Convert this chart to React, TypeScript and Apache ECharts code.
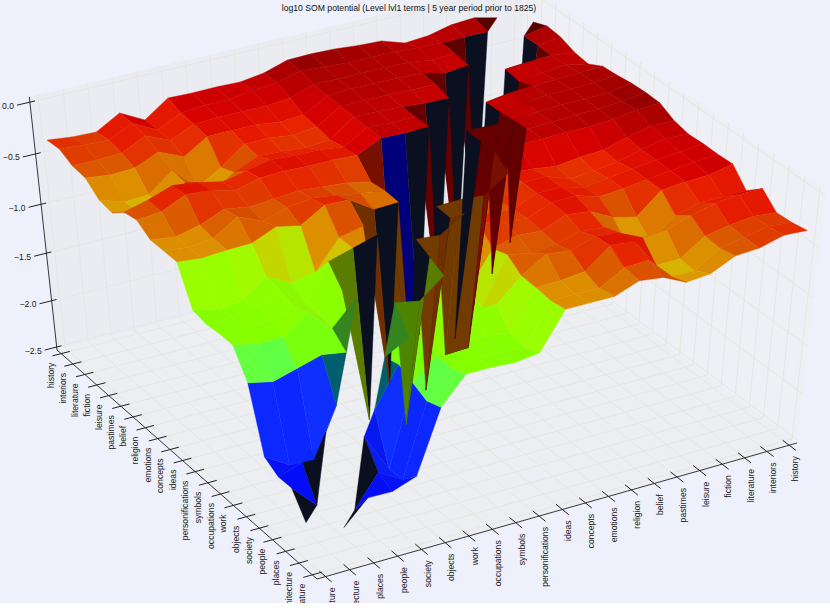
import React, { useEffect, useRef } from "react";
import * as echarts from "echarts";

const categories = ["history","interiors","literature","fiction","leisure","pastimes","belief","religion","emotions","concepts","ideas","personifications","symbols","occupations","work","objects","society","people","places","architecture","nature"];
const zTicks = [0, -0.5, -1, -1.5, -2, -2.5];
const title = "log10 SOM potential (Level lvl1 terms | 5 year period prior to 1825)";

// upper triangle of the symmetric matrix; row i holds columns j = i+1 ... 20
const row0 = [-.2,-.147,-.163,-.215,-.233,-.16,-.15,-.13,-.124,-.13,-.2,-.233,-.226,-.229,-.222,-.38,-.256,-.385,-.376,-.35];
const row1 = [-.19,-.186,-.19,-.186,-.17,-.17,-.17,-.155,-.14,-.2,-.22,-.25,-.25,-.27,-.38,-.256,-.363,-.355,-.336];
const row2 = [-2.15,-.2,-.21,-.18,-.175,-.175,-.175,-.175,-.25,-.27,-.27,-.27,-.28,-.38,-.28,-.39,-.4,-.4];
const row3 = [-.217,-.24,-.185,-.18,-.175,-.175,-.19,-.316,-.33,-.3,-.3,-.3,-.44,-.336,-.434,-.444,-.415];
const row4 = [-2.15,-.2,-.2,-.19,-.19,-.19,-.33,-.36,-.33,-.33,-.5,-.635,-.42,-.595,-.606,-.528];
const row5 = [-.235,-.228,-.21,-.2,-.195,-.36,-.38,-.36,-.35,-.445,-.61,-.435,-.6,-.6,-.55];
const row6 = [-2.15,-.21,-.21,-.2,-.33,-.3,-.3,-.28,-.33,-.38,-.33,-.3,-.38,-.44];
const row7 = [-.2,-.21,-.2,-.31,-.3,-.3,-.29,-.3,-.36,-.3,-.286,-.39,-.41];
const row8 = [-2.16,-2.14,-.47,-.42,-.4,-.38,-.4,-.42,-.38,-.475,-.53,-.5];
const row9 = [-2.15,-.45,-.42,-.38,-.35,-.38,-.45,-.35,-.5,-.525,-.5];
const row10 = [-.46,-.47,-.32,-.31,-.45,-.4,-.5,-.507,-.523,-.5];
const row11 = [-2.17,-.47,-.52,-.8,-.85,-.72,-.9,-.926,-.865];
const row12 = [-.45,-.52,-.59,-.94,-.75,-.85,-.9,-.895];
const row13 = [-2.17,-.78,-.95,-.8,-.88,-.9,-.88];
const row14 = [-.73,-.97,-.75,-.93,-.93,-.88];
const row15 = [-1.1,-1.06,-1.13,-1.2,-1.146];
const row16 = [-1.455,-1.96,-1.947,-1.79];
const row17 = [-1.55,-1.8,-1.88];
const row18 = [-2.13,-1.875];
const row19 = [-2.12];
const rows = [row0,row1,row2,row3,row4,row5,row6,row7,row8,row9,row10,row11,row12,row13,row14,row15,row16,row17,row18,row19];

const val = (i: number, j: number) => (i === j ? NaN : i < j ? rows[i][j - i - 1] : rows[j][i - j - 1]);

// perspective camera: unit box (u, v, n) to the screen
const project = (u: number, v: number, n: number): [number, number] => {
  const w = 1 - 0.06374 * u - 0.04075 * v - 0.066 * n;
  return [(229.2 * u - 462.3 * v + 517 - 28 * n) / w, (182.76 * u + 103.74 * v + 232 - 244.5 * n) / w];
};
const depth = (u: number, v: number, n: number) => 1 - 0.06374 * u - 0.04075 * v - 0.066 * n;
const M = 0.017;
const cellPos = (i: number) => M + ((1 - 2 * M) * i) / 20;
const zNorm = (z: number) => 0.013 + ((z + 2.5) / 2.5) * 0.987;

const stops: [number, number, number, number][] = [
  [0, 120, 0, 0],[-0.13, 145, 0, 0],[-0.16, 168, 0, 0],[-0.2, 190, 0, 0],[-0.26, 214, 0, 0],[-0.33, 232, 32, 0],
  [-0.4, 218, 78, 0],[-0.45, 218, 110, 0],[-0.5, 220, 140, 0],[-0.59, 222, 160, 0],[-0.61, 208, 200, 0],[-0.635, 165, 248, 0],
  [-0.72, 152, 255, 0],[-0.95, 128, 255, 0],[-1.05, 96, 255, 70],[-1.15, 80, 255, 100],[-1.25, 0, 192, 208],
  [-1.35, 16, 50, 255],[-1.7, 10, 30, 255],[-2.1, 0, 0, 240],[-2.6, 0, 0, 200],
];
const colorAt = (z: number): [number, number, number] => {
  if (z >= stops[0][0]) return [stops[0][1], stops[0][2], stops[0][3]];
  for (let s = 1; s < stops.length; s++) {
    if (z >= stops[s][0]) {
      const a = stops[s - 1], b = stops[s], t = (a[0] - z) / (a[0] - b[0]);
      return [a[1] + (b[1] - a[1]) * t, a[2] + (b[2] - a[2]) * t, a[3] + (b[3] - a[3]) * t];
    }
  }
  return [0, 0, 200];
};
const rgb = (c: [number, number, number], k: number) => `rgb(${Math.round(c[0] * k)},${Math.round(c[1] * k)},${Math.round(c[2] * k)})`;
const isTip = (i: number, j: number) => Math.abs(i - j) <= 2 && val(i, j) < -2.1;

const cellVerts = (a: number, b: number): [number, number][] => [[a, b], [a + 1, b], [a + 1, b + 1], [a, b + 1]];

const faceFill = (r: number, c: number): string => {
  const a = Math.min(r, c), b = Math.max(r, c); // mirror into the upper triangle
  const verts = cellVerts(a, b);
  const zs = verts.map(([i, j]) => val(i, j));
  if (b === a + 1) {
    const zb = zs[2], zc = zs[3];
    if (zb < -1.6) return "#0a1020";
    const k = a === 16 ? 0.95 : 0.52;
    return rgb(colorAt((zb + zc) / 2), k);
  }
  const tips = verts.map(([i, j]) => isTip(i, j));
  const nTip = tips.filter(Boolean).length;
  if (nTip > 0 && a < 17) {
    if (nTip === 2 && tips[1] && tips[2]) return "rgb(0,0,122)";
    const rest = zs.filter((_, q) => !tips[q]);
    return rgb(colorAt(rest.reduce((s, x) => s + x, 0) / rest.length), 0.52);
  }
  const avg = zs.reduce((s, x) => s + x, 0) / 4;
  const di = (zs[1] + zs[2] - zs[0] - zs[3]) / 2, dj = (zs[2] + zs[3] - zs[0] - zs[1]) / 2;
  const len = Math.hypot(di, dj, 1);
  const s = (-di - dj + 0.7) / len / 1.58;
  const k = Math.min(1, Math.max(0.5, 0.5 + (0.5 * (s + 0.9)) / 1.343));
  // faces tilted away from the viewer keep the colour of their upper edge
  const sorted = [...zs].sort((p, q) => q - p);
  const tone = di + dj > 0.12 ? (sorted[0] + sorted[1]) / 2 : avg;
  return rgb(colorAt(tone), k);
};

// faces around the diagonal are painted after the rest, over what lies behind them
const onTop = (r: number, c: number) => {
  const a = Math.min(r, c), b = Math.max(r, c);
  if (a >= 15) return false;
  if (b === a + 1) return true;
  if (cellVerts(a, b).some(([i, j]) => isTip(i, j))) return true;
  return b - a <= 4 && (a <= 4 || (r < c && a <= 10));
};

type Face = { r: number; c: number; d: number; top: boolean };
const buildFaces = (): Face[] => {
  const out: Face[] = [];
  for (let r = 0; r < 20; r++) for (let c = 0; c < 20; c++) {
    if (r === c) continue;
    const vs = [[r, c], [r + 1, c], [r + 1, c + 1], [r, c + 1]].filter(([i, j]) => i !== j);
    if (vs.length < 3) continue;
    const d = vs.reduce((s, [i, j]) => s + depth(cellPos(i), cellPos(j), zNorm(val(i, j))), 0) / vs.length;
    out.push({ r, c, d, top: onTop(r, c) });
  }
  return out.sort((a, b) => (a.top === b.top ? b.d - a.d : a.top ? 1 : -1));
};

const GRID = "#e6e6e1";
const AXIS = "#222222";
const FONT = "Liberation Sans";

const buildGraphic = () => {
  const els: any[] = [];
  const poly = (pts: [number, number, number][], fill: string) =>
    els.push({ type: "polygon", shape: { points: pts.map((p) => project(p[0], p[1], p[2])) }, style: { fill }, silent: true });
  const line = (a: [number, number, number], b: [number, number, number], stroke: string, lineWidth: number) => {
    const p = project(a[0], a[1], a[2]), q = project(b[0], b[1], b[2]);
    els.push({ type: "line", shape: { x1: p[0], y1: p[1], x2: q[0], y2: q[1] }, style: { stroke, lineWidth }, silent: true });
  };
  const top = 1.02;
  poly([[0, 0, 0], [0, 1, 0], [0, 1, top], [0, 0, top]], "#eaecf2");
  poly([[0, 0, 0], [1, 0, 0], [1, 0, top], [0, 0, top]], "#eef0f6");
  poly([[0, 0, 0], [1, 0, 0], [1, 1, 0], [0, 1, 0]], "#edeef2");
  categories.forEach((_, i) => {
    const t = cellPos(i);
    line([t, 0, 0], [t, 1, 0], GRID, 1);
    line([0, t, 0], [1, t, 0], GRID, 1);
    line([t, 0, 0], [t, 0, top], GRID, 1);
    line([0, t, 0], [0, t, top], GRID, 1);
  });
  zTicks.forEach((z) => {
    const n = zNorm(z);
    line([0, 0, n], [0, 1, n], GRID, 1);
    line([0, 0, n], [1, 0, n], GRID, 1);
  });
  line([0, 1, 0], [1, 1, 0], AXIS, 0.9);
  line([1, 1, 0], [1, 0, 0], AXIS, 0.9);
  line([0, 1, 0], [0, 1, top], AXIS, 0.9);
  const label = (text: string, x: number, y: number, rot: number, align: string) =>
    els.push({ type: "text", x, y, rotation: rot, silent: true, style: { text, fontSize: 8.6, fontFamily: FONT, fill: "#222222", align, verticalAlign: "middle" } });
  categories.forEach((name, i) => {
    const t = cellPos(i);
    line([t, 0.982, 0], [t, 1.018, 0], AXIS, 1);
    const p = project(t, 1, 0);
    label(name, p[0] - 10, p[1] + 9, Math.PI / 2, "right");
    line([0.978, t, 0], [1.022, t, 0], AXIS, 1);
    const q = project(1, t, 0);
    label(name, q[0] + 6, q[1] + 11, Math.PI / 2, "right");
  });
  zTicks.forEach((z) => {
    const n = zNorm(z);
    line([0, 0.99, n], [0, 1.025, n], AXIS, 1);
    const p = project(0, 1.025, n);
    label(z === 0 ? "0.0" : "\u2212" + Math.abs(z).toFixed(1), p[0] - 3, p[1] + 0.5, 0, "right");
  });
  els.push({ type: "text", x: 409, y: 8, silent: true, style: { text: title, fontSize: 8.65, fontFamily: FONT, fill: "#111111", align: "center", verticalAlign: "middle" } });
  return els;
};

export default function App() {
  const ref = useRef<HTMLDivElement>(null);
  useEffect(() => {
    document.body.style.margin = "0";
    const chart = echarts.init(ref.current!, undefined, { renderer: "svg" });
    const faces = buildFaces();
    chart.setOption({
      animation: false,
      backgroundColor: "#eef1fb",
      graphic: { elements: buildGraphic() },
      series: [{
        type: "custom",
        coordinateSystem: "none",
        silent: true,
        z: 10,
        clip: false,
        data: faces.map((f) => [f.r, f.c]),
        renderItem: (_p: any, api: any) => {
          const r = api.value(0), c = api.value(1);
          const pts = [[r, c], [r + 1, c], [r + 1, c + 1], [r, c + 1]]
            .filter(([i, j]) => i !== j)
            .map(([i, j]) => project(cellPos(i), cellPos(j), zNorm(val(i, j))));
          const fill = faceFill(r, c);
          return { type: "polygon", shape: { points: pts }, style: { fill, stroke: fill, lineWidth: 0.4 } };
        },
      }],
    });
    return () => chart.dispose();
  }, []);
  return <div ref={ref} style={{ width: 830, height: 603 }} />;
}
